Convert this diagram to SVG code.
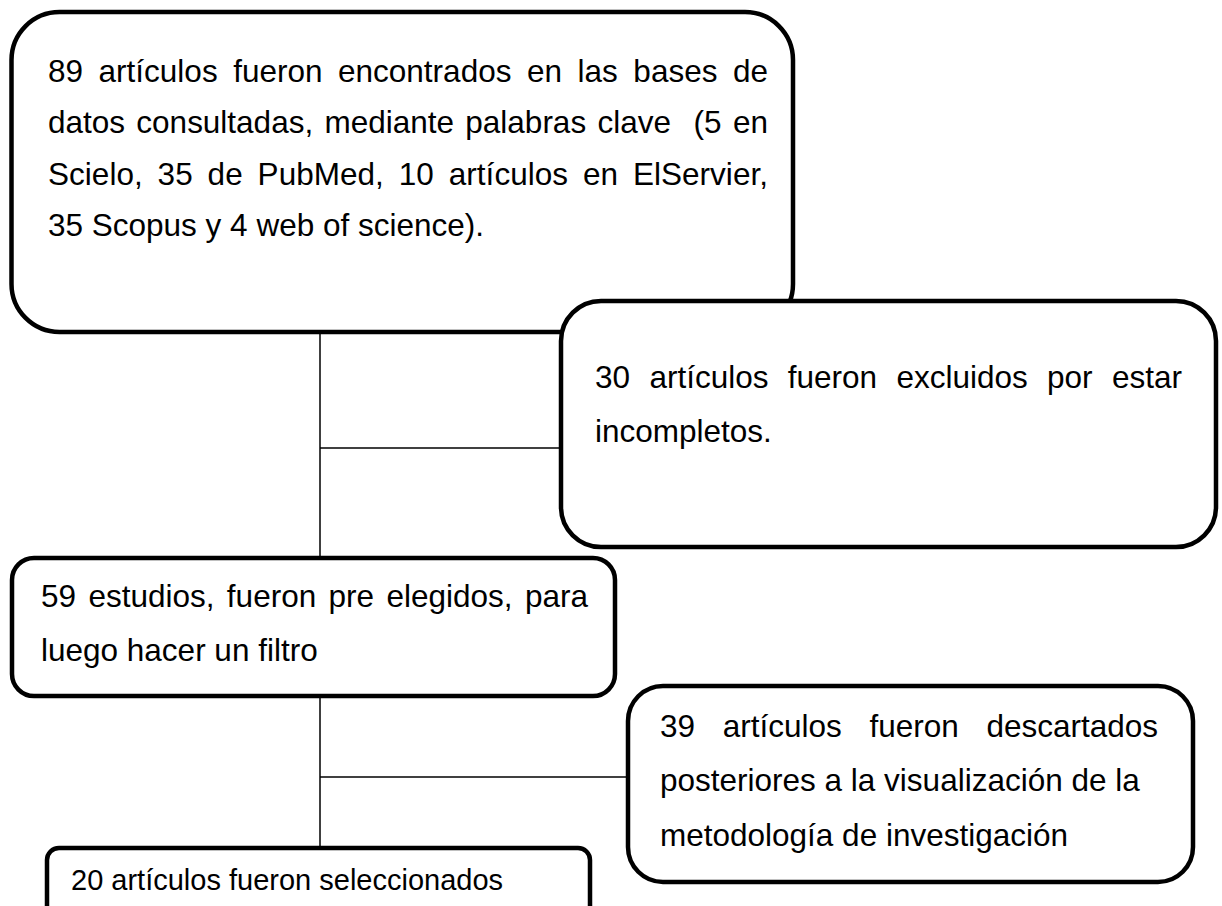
<svg xmlns="http://www.w3.org/2000/svg" width="1222" height="906" viewBox="0 0 1222 906">
<style>
.box{fill:#fff;stroke:#000;stroke-width:4.5}
.conn{stroke:#000;stroke-width:1.5;fill:none}
text{font-family:"Liberation Sans",Arial,sans-serif;font-size:31.5px;fill:#000;white-space:pre}
.small{font-size:29px}
</style>
<rect width="1222" height="906" fill="#fff"/>
<g id="n1">
<rect class="box" x="11.5" y="12" width="781.5" height="320" rx="48" ry="48"/>
<text x="48" y="82" word-spacing="6.8" textLength="720">89 artículos fueron encontrados en las bases de</text>
<text x="48" y="133" word-spacing="2.6" textLength="720" xml:space="preserve">datos consultadas, mediante palabras clave  (5 en</text>
<text x="48" y="185" word-spacing="6.1" textLength="720">Scielo, 35 de PubMed, 10 artículos en ElServier,</text>
<text x="48" y="236">35 Scopus y 4 web of science).</text>
</g>
<g id="connectors">
<line class="conn" x1="320" y1="332" x2="320" y2="558"/>
<line class="conn" x1="320" y1="448" x2="561" y2="448"/>
<line class="conn" x1="320" y1="696" x2="320" y2="848"/>
<line class="conn" x1="320" y1="777" x2="628" y2="777"/>
</g>
<g id="n2">
<rect class="box" x="561" y="301" width="655" height="246" rx="40" ry="40"/>
<text x="595" y="388" word-spacing="10.6" textLength="587">30 artículos fueron excluidos por estar</text>
<text x="595" y="442">incompletos.</text>
</g>
<g id="n3">
<rect class="box" x="12" y="558" width="603" height="138" rx="22" ry="22"/>
<text x="41" y="607" word-spacing="3.6" textLength="547">59 estudios, fueron pre elegidos, para</text>
<text x="41" y="661">luego hacer un filtro</text>
</g>
<g id="n4">
<rect class="box" x="628" y="686" width="565" height="196" rx="35" ry="35"/>
<text x="660" y="737" word-spacing="18.9" textLength="498">39 artículos fueron descartados</text>
<text x="660" y="791">posteriores a la visualización de la</text>
<text x="660" y="846">metodología de investigación</text>
</g>
<g id="n5">
<rect class="box" x="47" y="848" width="543" height="70" rx="12" ry="12"/>
<text class="small" x="71" y="890">20 artículos fueron seleccionados</text>
</g>
</svg>
